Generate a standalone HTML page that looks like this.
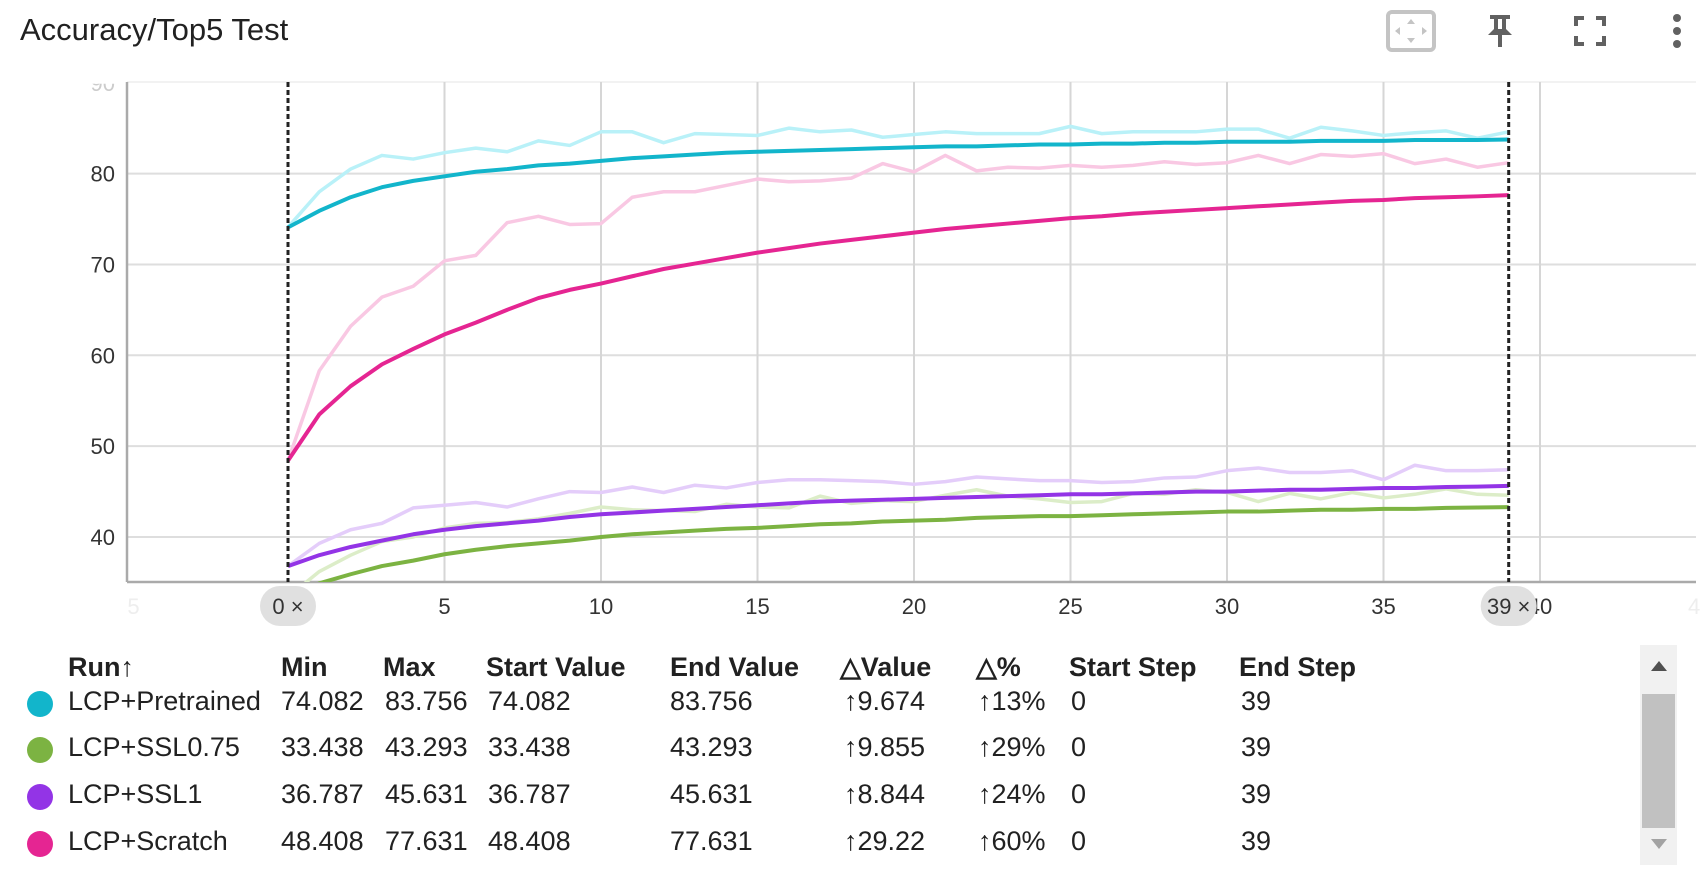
<!DOCTYPE html>
<html><head><meta charset="utf-8">
<style>
html,body{margin:0;padding:0;background:#fff;}
body{width:1703px;height:869px;position:relative;overflow:hidden;font-family:"Liberation Sans",sans-serif;color:#212121;}
.title{position:absolute;left:20px;top:12px;font-size:31px;color:#212121;}
.tbl{position:absolute;font-size:27px;white-space:nowrap;}
.hd{font-weight:bold;}
.dot{position:absolute;width:26px;height:26px;border-radius:50%;}
</style></head>
<body>
<div class="title">Accuracy/Top5 Test</div>

<svg style="position:absolute;left:0;top:0" width="1703" height="70">
  <g>
    <rect x="1388" y="12" width="46" height="38" rx="4" fill="none" stroke="#c4c4c4" stroke-width="4"/>
    <polygon points="1411,19 1407,24 1415,24" fill="#c4c4c4"/>
    <polygon points="1411,43 1407,38 1415,38" fill="#c4c4c4"/>
    <polygon points="1395,31 1400,27 1400,35" fill="#c4c4c4"/>
    <polygon points="1427,31 1422,27 1422,35" fill="#c4c4c4"/>
  </g>
  <g fill="#616161">
    <rect x="1490" y="15" width="20" height="4"/>
    <rect x="1494" y="17" width="4" height="14"/><rect x="1502" y="17" width="4" height="14"/>
    <polygon points="1488,35 1512,35 1506,29 1494,29"/>
    <rect x="1498" y="35" width="4" height="12"/>
  </g>
  <g fill="none" stroke="#616161" stroke-width="4">
    <path d="M1576 26V18H1584M1596 18H1604V26M1604 36V44H1596M1584 44H1576V36"/>
  </g>
  <g fill="#616161">
    <circle cx="1677" cy="18" r="4"/><circle cx="1677" cy="31" r="4"/><circle cx="1677" cy="44" r="4"/>
  </g>
</svg>

<svg id="chart" style="position:absolute;left:0;top:70px" width="1703" height="560"></svg>

<div class="tbl hd" style="left:68px;top:652px">Run↑</div>
<div class="tbl hd" style="left:281px;top:652px">Min</div>
<div class="tbl hd" style="left:383px;top:652px">Max</div>
<div class="tbl hd" style="left:486px;top:652px">Start Value</div>
<div class="tbl hd" style="left:670px;top:652px">End Value</div>
<div class="tbl hd" style="left:840px;top:652px">△Value</div>
<div class="tbl hd" style="left:976px;top:652px">△%</div>
<div class="tbl hd" style="left:1069px;top:652px">Start Step</div>
<div class="tbl hd" style="left:1239px;top:652px">End Step</div>

<div id="rows"></div>

<div style="position:absolute;left:1640px;top:645px;width:37px;height:220px;background:#f1f1f1">
  <div style="position:absolute;left:11px;top:16px;width:0;height:0;border-left:8px solid transparent;border-right:8px solid transparent;border-bottom:10px solid #505050"></div>
  <div style="position:absolute;left:2px;top:49px;width:33px;height:134px;background:#c1c1c1"></div>
  <div style="position:absolute;left:11px;top:194px;width:0;height:0;border-left:8px solid transparent;border-right:8px solid transparent;border-top:10px solid #a3a3a3"></div>
</div>

<script>
const steps = [0,1,2,3,4,5,6,7,8,9,10,11,12,13,14,15,16,17,18,19,20,21,22,23,24,25,26,27,28,29,30,31,32,33,34,35,36,37,38,39];
const xTicks = [5,10,15,20,25,30,35];
const yTicks = [40,50,60,70,80];
const pretrainedRaw = [74.1,78,80.5,82,81.6,82.3,82.8,82.4,83.6,83.1,84.6,84.6,83.4,84.4,84.3,84.2,85,84.6,84.8,84,84.3,84.6,84.4,84.4,84.4,85.2,84.4,84.6,84.6,84.6,84.9,84.9,83.9,85.1,84.7,84.2,84.5,84.7,83.9,84.6];
const pretrainedSmooth = [74.08,75.9,77.4,78.5,79.2,79.7,80.2,80.5,80.9,81.1,81.4,81.7,81.9,82.1,82.3,82.4,82.5,82.6,82.7,82.8,82.9,83.0,83.0,83.1,83.2,83.2,83.3,83.3,83.4,83.4,83.5,83.5,83.5,83.6,83.6,83.6,83.7,83.7,83.7,83.76];
const scratchRaw = [48.4,58.3,63.2,66.4,67.6,70.4,71.0,74.6,75.3,74.4,74.5,77.4,78.0,78.0,78.7,79.4,79.1,79.2,79.5,81.1,80.2,82.0,80.3,80.7,80.6,80.9,80.7,80.9,81.3,81.0,81.2,82.0,81.1,82.1,81.9,82.2,81.1,81.6,80.7,81.2];
const scratchSmooth = [48.41,53.5,56.6,59.0,60.7,62.3,63.6,65.0,66.3,67.2,67.9,68.7,69.5,70.1,70.7,71.3,71.8,72.3,72.7,73.1,73.5,73.9,74.2,74.5,74.8,75.1,75.3,75.6,75.8,76.0,76.2,76.4,76.6,76.8,77.0,77.1,77.3,77.4,77.5,77.63];
const ssl1Raw = [36.8,39.3,40.8,41.5,43.2,43.5,43.8,43.3,44.2,45.0,44.9,45.5,44.9,45.7,45.4,46.0,46.3,46.3,46.2,46.1,45.8,46.1,46.6,46.4,46.2,46.2,46.0,46.1,46.5,46.6,47.3,47.6,47.1,47.1,47.3,46.3,47.9,47.3,47.3,47.4];
const ssl1Smooth = [36.79,38.0,38.9,39.6,40.3,40.8,41.2,41.5,41.8,42.2,42.5,42.7,42.9,43.1,43.3,43.5,43.7,43.9,44.0,44.1,44.2,44.3,44.4,44.5,44.6,44.7,44.7,44.8,44.9,45.0,45.0,45.1,45.2,45.2,45.3,45.4,45.4,45.5,45.55,45.63];
const ssl075Raw = [33.4,36.2,38.0,39.5,40.0,41.0,41.5,41.6,42.0,42.6,43.3,43.0,42.9,42.8,43.6,43.3,43.2,44.5,43.7,44.0,43.9,44.6,45.2,44.5,44.2,43.8,43.9,44.8,44.7,45.2,44.9,43.9,44.8,44.2,44.9,44.3,44.7,45.3,44.7,44.6];
const ssl075Smooth = [33.44,34.9,35.9,36.8,37.4,38.1,38.6,39.0,39.3,39.6,40.0,40.3,40.5,40.7,40.9,41.0,41.2,41.4,41.5,41.7,41.8,41.9,42.1,42.2,42.3,42.3,42.4,42.5,42.6,42.7,42.8,42.8,42.9,43.0,43.0,43.1,43.1,43.2,43.25,43.29];
const runNames = ["LCP+Pretrained","LCP+SSL0.75","LCP+SSL1","LCP+Scratch"];
const minVals = ["74.082","33.438","36.787","48.408"];
const maxVals = ["83.756","43.293","45.631","77.631"];
const startVals = ["74.082","33.438","36.787","48.408"];
const endVals = ["83.756","43.293","45.631","77.631"];
const deltaVals = ["↑9.674","↑9.855","↑8.844","↑29.22"];
const deltaPct = ["↑13%","↑29%","↑24%","↑60%"];
const startSteps = ["0","0","0","0"];
const endSteps = ["39","39","39","39"];

const NS="http://www.w3.org/2000/svg";
const svg=document.getElementById('chart');
const L=127, R=1696, T=12, B=512;
const x0px=288, stepPx=31.3;
const X=v=>x0px+v*stepPx;
const yPx40=467, unitPx=9.085;
const Y=v=>yPx40-(v-40)*unitPx;
function mk(tag,attrs,parent){const e=document.createElementNS(NS,tag);for(const k in attrs)e.setAttribute(k,attrs[k]);(parent||svg).appendChild(e);return e;}

const defs=mk('defs',{});
const cp=mk('clipPath',{id:'plotclip'},defs);
mk('rect',{x:L,y:T,width:R-L,height:B-T},cp);

const grid=mk('g',{});


yTicks.forEach(v=>{mk('line',{x1:L,x2:R,y1:Y(v),y2:Y(v),stroke:'#dedede','stroke-width':2},grid);});
mk('line',{x1:L,x2:R,y1:T,y2:T,stroke:'#eeeeee','stroke-width':1.5},grid);
[5,10,15,20,25,30,35,40].forEach(v=>{mk('line',{x1:X(v),x2:X(v),y1:T,y2:B,stroke:'#d6d6d6','stroke-width':2},grid);});

const ax=mk('g',{});


mk('line',{x1:L,x2:L,y1:T,y2:B,stroke:'#aaaaaa','stroke-width':2.5},ax);
mk('line',{x1:L,x2:R,y1:B,y2:B,stroke:'#aaaaaa','stroke-width':2.5},ax);

yTicks.forEach(v=>{
  const t=mk('text',{x:115,y:Y(v)+8,'text-anchor':'end','font-size':22,fill:'#333'});
  
  
  t.textContent=v;
});
const tc=mk('clipPath',{id:'topclip'},defs);mk('rect',{x:80,y:Y(90)+1,width:40,height:20},tc);
const t90=mk('text',{x:115,y:Y(90)+8,'text-anchor':'end','font-size':22,fill:'#ccc','clip-path':'url(#topclip)'});


t90.textContent='90';

const xl=mk('g',{});


xTicks.forEach(v=>{const t=mk('text',{x:X(v),y:544,'text-anchor':'middle','font-size':22,fill:'#333'},xl);t.textContent=v;});
const f1=mk('text',{x:X(-5)+2,y:544,'text-anchor':'middle','font-size':22,fill:'#eeeeee'},xl);f1.textContent='5';
const f2=mk('text',{x:1688,y:544,'text-anchor':'start','font-size':22,fill:'#eeeeee'},xl);f2.textContent='4';
const f3=mk('text',{x:X(40),y:544,'text-anchor':'middle','font-size':22,fill:'#333'},xl);f3.textContent='40';

function line(arr,color,w,name){
  const p=mk('polyline',{points:steps.map((s,i)=>X(s)+','+Y(arr[i])).join(' '),fill:'none',stroke:color,'stroke-width':w,'stroke-linejoin':'round','clip-path':'url(#plotclip)'});
  
  
}
line(ssl075Raw,'#dcedc8',3.5,'ssl075-raw-line');
line(ssl1Raw,'#e4cdfa',3.5,'ssl1-raw-line');
line(scratchRaw,'#f9c8e3',3.5,'scratch-raw-line');
line(pretrainedRaw,'#b9f1f8',3.5,'pretrained-raw-line');
line(ssl075Smooth,'#7cb342',4,'ssl075-smoothed-line');
line(ssl1Smooth,'#9334e6',4,'ssl1-smoothed-line');
line(scratchSmooth,'#e52592',4,'scratch-smoothed-line');
line(pretrainedSmooth,'#12b5cb',4,'pretrained-smoothed-line');

[[0,'0 ×','range-start-marker'],[39,'39 ×','range-end-marker']].forEach(([s,lab,nm])=>{
  const g=mk('g',{});
  
  
  mk('line',{x1:X(s),x2:X(s),y1:T,y2:B,stroke:'#222','stroke-width':3,'stroke-dasharray':'5,3'},g);
  mk('rect',{x:X(s)-28,y:516,width:56,height:40,rx:20,fill:'#e0e0e0'},g);
  const t=mk('text',{x:X(s),y:544,'text-anchor':'middle','font-size':22,fill:'#333'},g);t.textContent=lab;
});

const colors=['#12b5cb','#7cb342','#9334e6','#e52592'];
const rowTops=[686,732,779,826];
const rows=document.getElementById('rows');
const cols=[[68,runNames],[281,minVals],[385,maxVals],[488,startVals],[670,endVals],[844,deltaVals],[978,deltaPct],[1071,startSteps],[1241,endSteps]];
runNames.forEach((n,i)=>{
  const d=document.createElement('div');
  d.className='dot';d.style.left='27px';d.style.top=(rowTops[i]+5)+'px';d.style.background=colors[i];
  
  
  rows.appendChild(d);
  cols.forEach(([x,arr],c)=>{
    const e=document.createElement('div');
    e.className='tbl';e.style.left=x+'px';e.style.top=rowTops[i]+'px';e.textContent=arr[i];
    
    
    rows.appendChild(e);
  });
});
</script>
</body></html>
